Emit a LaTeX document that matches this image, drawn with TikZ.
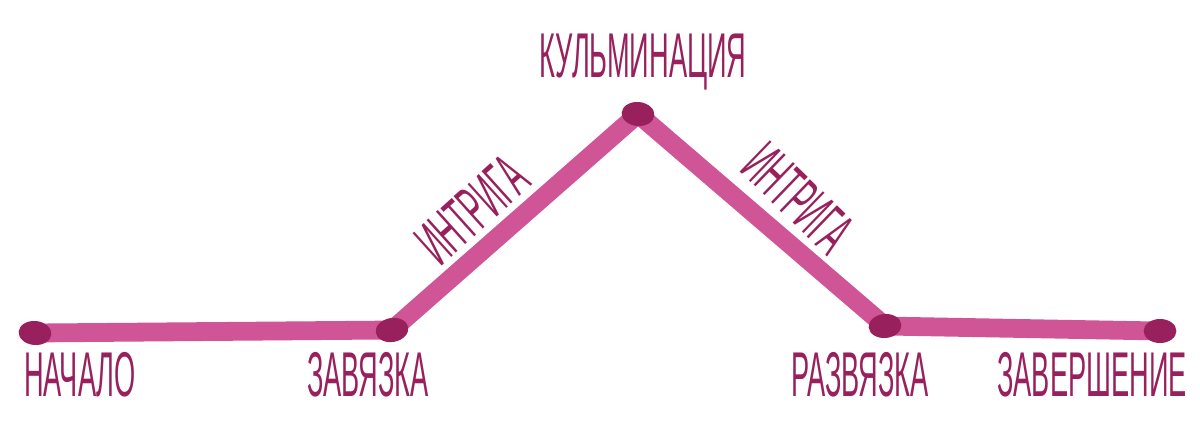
\documentclass[tikz,border=0pt]{standalone}
\usepackage{fontspec}
\setmainfont{Liberation Sans}
\usetikzlibrary{shapes.geometric, backgrounds}
\definecolor{stickpink}{RGB}{208,85,150}
\definecolor{plum}{RGB}{152,32,92}
\newcommand{\narrowtext}[1]{\scalebox{0.43}[1]{#1}}
\tikzstyle{dot} = [ellipse, minimum width=0.82cm, minimum height=0.6cm, inner sep=0pt, fill=plum]
\tikzstyle{stick} = [line width=0.47cm, draw=stickpink]
\tikzstyle{label} = [text=plum, inner sep=0pt, font=\fontsize{45}{45}\selectfont]

\begin{document}
\begin{tikzpicture}[x=0.025cm, y=-0.025cm]
\useasboundingbox (0,0) rectangle (1200,436);

\node (0) [dot, rotate=-5] at (35,333) {};
\node (1) [dot, rotate=10] at (392,330) {};
\node (2) [dot, rotate=-5] at (638,114) {};
\node (3) [dot, rotate=5] at (885,326) {};
\node (4) [dot] at (1160,331) {};

\begin{scope}[on background layer]
\draw [stick] (0.center) -- (1.center);
\draw [stick] (1.center) -- (2.center);
\draw [stick] (2.center) -- (3.center);
\draw [stick] (3.center) -- (4.center);
\end{scope}

\node (start) [label] at (80,375) {\narrowtext{НАЧАЛО}};
\node (tie) [label] at (368,375) {\narrowtext{ЗАВЯЗКА}};
\node (peak) [label] at (643,62) {\narrowtext{КУЛЬМИНАЦИЯ}};
\node (upintr) [label, rotate=42] at (472,210) {\narrowtext{ИНТРИГА}};
\node (downintr) [label, rotate=-44] at (798,198) {\narrowtext{ИНТРИГА}};
\node (outcome) [label] at (860,375) {\narrowtext{РАЗВЯЗКА}};
\node (finish) [label] at (1092,375) {\narrowtext{ЗАВЕРШЕНИЕ}};

\end{tikzpicture}
\end{document}
